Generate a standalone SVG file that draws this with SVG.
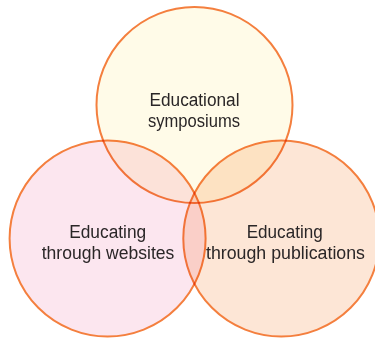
<svg xmlns="http://www.w3.org/2000/svg" width="375" height="339" viewBox="0 0 375 339">
  <style>
    .c { stroke: #f47f3e; stroke-width: 2; mix-blend-mode: multiply; }
    .t { font-family: "Liberation Sans", Arial, sans-serif; font-size: 18px; fill: #2a2627; text-anchor: middle; }
  </style>
  <rect width="375" height="339" fill="#ffffff"/>
  <g id="node-symposiums">
    <circle class="c" cx="194.5" cy="105" r="98" fill="#fffbe8"/>
    <text class="t" x="194.5" y="105.5" textLength="90" lengthAdjust="spacingAndGlyphs">Educational</text>
    <text class="t" x="194" y="126.5" textLength="92" lengthAdjust="spacingAndGlyphs">symposiums</text>
  </g>
  <g id="node-websites">
    <circle class="c" cx="107.6" cy="238.5" r="98" fill="#fce6ef"/>
    <text class="t" x="107.7" y="237.5" textLength="77" lengthAdjust="spacingAndGlyphs">Educating</text>
    <text class="t" x="108" y="258.5" textLength="132.6" lengthAdjust="spacingAndGlyphs">through websites</text>
  </g>
  <g id="node-publications">
    <circle class="c" cx="281.3" cy="238.5" r="98" fill="#fde6d6"/>
    <text class="t" x="284.7" y="237.5" textLength="76" lengthAdjust="spacingAndGlyphs">Educating</text>
    <text class="t" x="285.5" y="258.5" textLength="159" lengthAdjust="spacingAndGlyphs">through publications</text>
  </g>
  <g id="connectors"/>
</svg>
